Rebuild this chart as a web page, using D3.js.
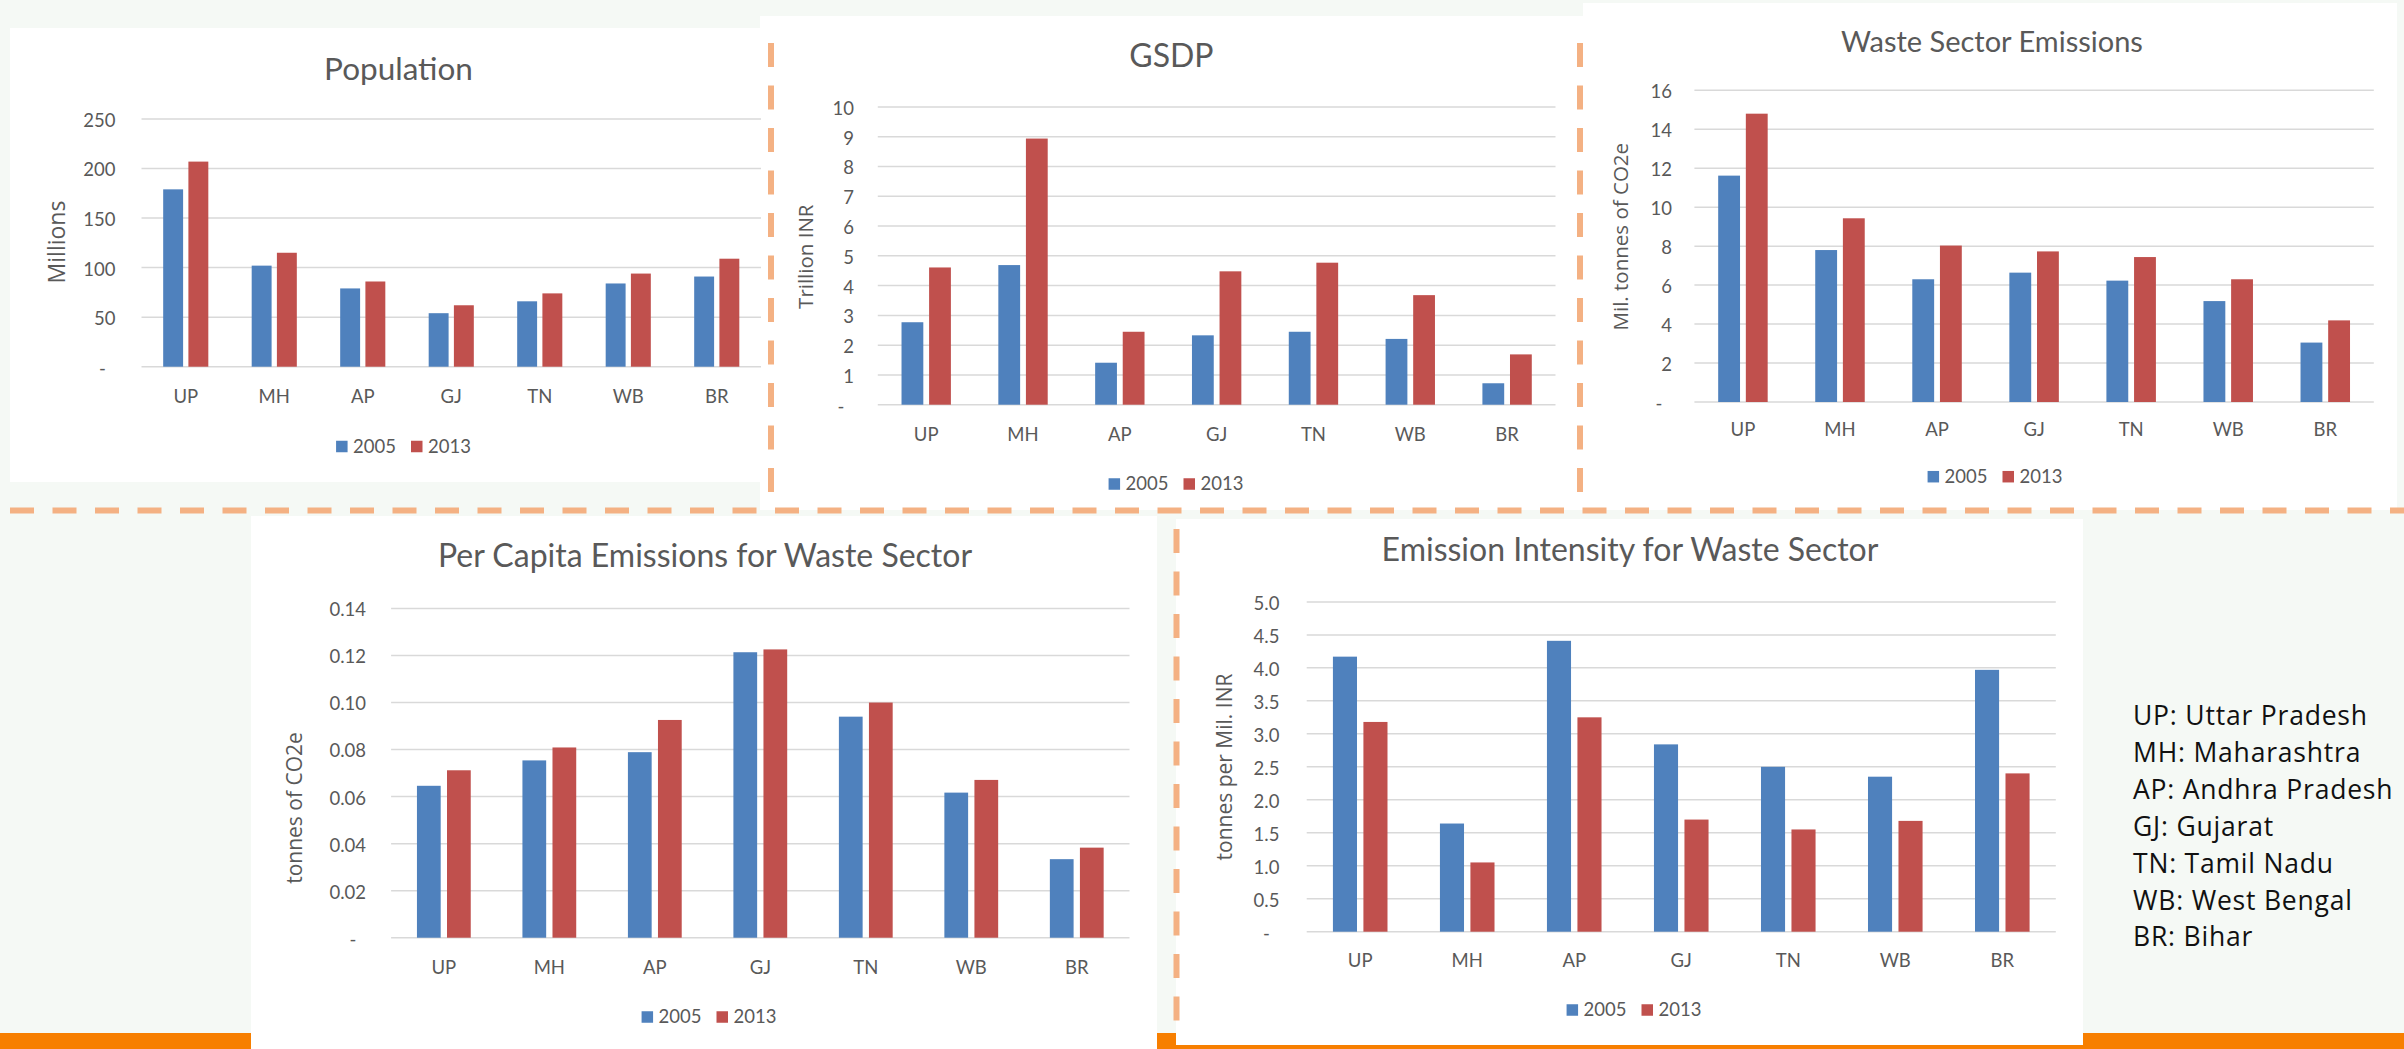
<!DOCTYPE html>
<html>
<head>
<meta charset="utf-8">
<script src="https://cdn.jsdelivr.net/npm/d3@7"></script>
<style>
  html, body { margin: 0; padding: 0; background: #f5f9f5; }
  svg { display: block; }
</style>
</head>
<body>
<svg id="chart" width="2404" height="1049"></svg>
<script>
// ---- data ----
const states = ["UP", "MH", "AP", "GJ", "TN", "WB", "BR"];
const years = ["2005", "2013"];

const population2005 = [179, 102, 79, 54, 66, 84, 91];
const population2013 = [207, 115, 86, 62, 74, 94, 109];
const populationTicks = [0, 50, 100, 150, 200, 250];

const gsdp2005 = [2.77, 4.69, 1.41, 2.33, 2.45, 2.21, 0.72];
const gsdp2013 = [4.61, 8.94, 2.45, 4.48, 4.77, 3.68, 1.69];
const gsdpTicks = [0, 1, 2, 3, 4, 5, 6, 7, 8, 9, 10];

const emissions2005 = [11.62, 7.80, 6.30, 6.64, 6.23, 5.18, 3.05];
const emissions2013 = [14.80, 9.43, 8.03, 7.73, 7.44, 6.30, 4.19];
const emissionsTicks = [0, 2, 4, 6, 8, 10, 12, 14, 16];

const perCapita2005 = [0.0646, 0.0754, 0.0789, 0.1214, 0.0940, 0.0617, 0.0334];
const perCapita2013 = [0.0712, 0.0809, 0.0926, 0.1226, 0.1000, 0.0671, 0.0383];
const perCapitaTicks = [0, 0.02, 0.04, 0.06, 0.08, 0.10, 0.12, 0.14];

const intensity2005 = [4.17, 1.64, 4.41, 2.84, 2.50, 2.35, 3.97];
const intensity2013 = [3.18, 1.05, 3.25, 1.70, 1.55, 1.68, 2.40];
const intensityTicks = [0, 0.5, 1, 1.5, 2, 2.5, 3, 3.5, 4, 4.5, 5];

const stateNames = [
  "UP: Uttar Pradesh",
  "MH: Maharashtra",
  "AP: Andhra Pradesh",
  "GJ: Gujarat",
  "TN: Tamil Nadu",
  "WB: West Bengal",
  "BR: Bihar"
];

// ---- styles ----
const W = 2404, H = 1049;
const colors = { "2005": "#4f81bd", "2013": "#c0504d" };
const textGray = "#595959";
const gridGray = "#d9d9d9";
const chartFont = "Lato, 'Open Sans', sans-serif";
const titleFont = "'Open Sans', Lato, sans-serif";
const dashColor = "#f4b183";

const svg = d3.select("#chart");
svg.append("rect").attr("width", W).attr("height", H).attr("fill", "#f5f9f5");
svg.append("rect").attr("x", 0).attr("y", 1033).attr("width", W).attr("height", 16).attr("fill", "#f77f00");

// ---- panel layout ----
const panels = [
  {
    title: "Population", titleSize: 31.5, yTitle: "Millions", yTitleSize: 23,
    s2005: population2005, s2013: population2013, ticks: populationTicks,
    fmt: d3.format("d"),
    box: [10, 28, 750, 454], plot: [141.5, 761, 366.7, 119],
    titleX: 398.5, titleY: 80, yTitleX: 57, yTitleY: 242,
    tickRight: 115.4, xLabelY: 396.7, legendX: 403.5, legendY: 446.5
  },
  {
    title: "GSDP", titleSize: 32, yTitle: "Trillion INR", yTitleSize: 20.5,
    s2005: gsdp2005, s2013: gsdp2013, ticks: gsdpTicks,
    fmt: d3.format("d"),
    box: [760, 16, 823, 494], plot: [877.8, 1555.5, 404.7, 107],
    titleX: 1171.4, titleY: 66.7, yTitleX: 806, yTitleY: 256.7,
    tickRight: 854, xLabelY: 434.3, legendX: 1176, legendY: 484
  },
  {
    title: "Waste Sector Emissions", titleSize: 29, yTitle: "Mil. tonnes of CO2e", yTitleSize: 20.5,
    s2005: emissions2005, s2013: emissions2013, ticks: emissionsTicks,
    fmt: d3.format("d"),
    box: [1583, 3, 814, 507], plot: [1694.4, 2373.8, 402, 90.3],
    titleX: 1992, titleY: 51.7, yTitleX: 1620.5, yTitleY: 236.7,
    tickRight: 1672, xLabelY: 430, legendX: 1995, legendY: 476.7
  },
  {
    title: "Per Capita Emissions for Waste Sector", titleSize: 32, yTitle: "tonnes of CO2e", yTitleSize: 21,
    s2005: perCapita2005, s2013: perCapita2013, ticks: perCapitaTicks,
    fmt: d3.format(".2f"),
    box: [251, 516, 906, 533], plot: [391.1, 1129.5, 937.7, 608.5],
    titleX: 705, titleY: 566.5, yTitleX: 294, yTitleY: 808,
    tickRight: 366, xLabelY: 967.4, legendX: 709, legendY: 1017
  },
  {
    title: "Emission Intensity for Waste Sector", titleSize: 32, yTitle: "tonnes per Mil. INR", yTitleSize: 21,
    s2005: intensity2005, s2013: intensity2013, ticks: intensityTicks,
    fmt: d3.format(".1f"),
    box: [1176, 519, 907, 526], plot: [1306.7, 2055.8, 931.7, 601.9],
    titleX: 1630, titleY: 561.3, yTitleX: 1224.3, yTitleY: 767,
    tickRight: 1279.4, xLabelY: 960.4, legendX: 1634, legendY: 1010
  }
];

// white chart areas first, so neighbouring content never gets covered
panels.forEach(p => {
  svg.append("rect")
    .attr("x", p.box[0]).attr("y", p.box[1])
    .attr("width", p.box[2]).attr("height", p.box[3])
    .attr("fill", "#ffffff");
});

function drawPanel(p) {
  const g = svg.append("g");
  const [left, right, bottom, top] = p.plot;
  const yMax = p.ticks[p.ticks.length - 1];

  const y = d3.scaleLinear().domain([0, yMax]).range([bottom, top]);
  const x0 = d3.scaleBand().domain(states).range([left, right]).paddingInner(0).paddingOuter(0);
  const groupW = x0.bandwidth() * 0.51;
  const x1 = d3.scaleBand().domain(years).range([0, groupW]).paddingInner(0.21).paddingOuter(0);

  // gridlines
  g.append("g").selectAll("line").data(p.ticks).join("line")
    .attr("x1", left).attr("x2", right)
    .attr("y1", d => y(d)).attr("y2", d => y(d))
    .attr("stroke", gridGray).attr("stroke-width", 1.5);

  // y axis labels
  const yAxis = g.append("g")
    .attr("transform", `translate(${p.tickRight},0)`)
    .call(d3.axisLeft(y).tickValues(p.ticks).tickSize(0).tickPadding(0)
      .tickFormat(d => d === 0 ? "-" : p.fmt(d)));
  yAxis.select(".domain").remove();
  yAxis.selectAll("text")
    .attr("font-family", chartFont).attr("font-size", 18.5).attr("fill", textGray)
    .attr("dy", "0.4em");
  yAxis.selectAll(".tick").filter(d => d === 0).select("text")
    .attr("text-anchor", "middle").attr("x", -13);

  // x axis labels
  const xAxis = g.append("g")
    .attr("transform", `translate(0,${p.xLabelY})`)
    .call(d3.axisBottom(x0).tickSize(0).tickPadding(0));
  xAxis.select(".domain").remove();
  xAxis.selectAll("text")
    .attr("font-family", chartFont).attr("font-size", 18.5).attr("fill", textGray)
    .attr("y", 0).attr("dy", "0.35em");

  // bars
  const rows = states.map((s, i) => ({ state: s, values: [
    { year: "2005", v: p.s2005[i] }, { year: "2013", v: p.s2013[i] }
  ]}));
  const offset = (x0.bandwidth() - groupW) / 2;
  g.append("g").selectAll("g").data(rows).join("g")
    .attr("transform", d => `translate(${x0(d.state) + offset},0)`)
    .selectAll("rect").data(d => d.values).join("rect")
    .attr("x", d => x1(d.year))
    .attr("width", x1.bandwidth())
    .attr("y", d => y(d.v))
    .attr("height", d => y(0) - y(d.v))
    .attr("fill", d => colors[d.year]);

  // title
  g.append("text")
    .attr("x", p.titleX).attr("y", p.titleY)
    .attr("text-anchor", "middle")
    .attr("font-family", chartFont).attr("font-size", p.titleSize).attr("fill", textGray)
    .text(p.title);

  // y axis title
  g.append("text")
    .attr("transform", `translate(${p.yTitleX},${p.yTitleY}) rotate(-90)`)
    .attr("text-anchor", "middle").attr("dy", "0.36em")
    .attr("font-family", titleFont).attr("font-size", p.yTitleSize).attr("fill", textGray)
    .text(p.yTitle);

  // legend
  const lg = g.append("g");
  const items = lg.selectAll("g").data(years).join("g");
  items.append("rect")
    .attr("width", 11.5).attr("height", 11.5).attr("y", -5.75)
    .attr("fill", d => colors[d]);
  items.append("text")
    .attr("x", 17).attr("dy", "0.35em")
    .attr("font-family", chartFont).attr("font-size", 18.5).attr("fill", textGray)
    .text(d => d);
  let cursor = 0;
  items.each(function () {
    const w = 17 + d3.select(this).select("text").node().getComputedTextLength();
    d3.select(this).attr("transform", `translate(${cursor},0)`);
    cursor += w + 15;
  });
  const total = cursor - 15;
  lg.attr("transform", `translate(${p.legendX - total / 2},${p.legendY})`);
}

panels.forEach(drawPanel);

// dashed separators
function dashedLine(x1, y1, x2, y2) {
  svg.append("line")
    .attr("x1", x1).attr("y1", y1).attr("x2", x2).attr("y2", y2)
    .attr("stroke", dashColor).attr("stroke-width", 6)
    .attr("stroke-dasharray", "24 18.5");
}
dashedLine(10, 510.5, W, 510.5);
dashedLine(771, 43, 771, 492);
dashedLine(1580, 43, 1580, 493);
dashedLine(1176.5, 529, 1176.5, 1022);

// state abbreviations key
svg.append("g").selectAll("text").data(stateNames).join("text")
  .attr("x", 2133)
  .attr("y", (d, i) => 725 + i * 36.9)
  .attr("font-family", "'Open Sans', Lato, sans-serif")
  .attr("font-size", 26.5)
  .attr("letter-spacing", 0.8)
  .attr("fill", "#111111")
  .text(d => d);
</script>
</body>
</html>
